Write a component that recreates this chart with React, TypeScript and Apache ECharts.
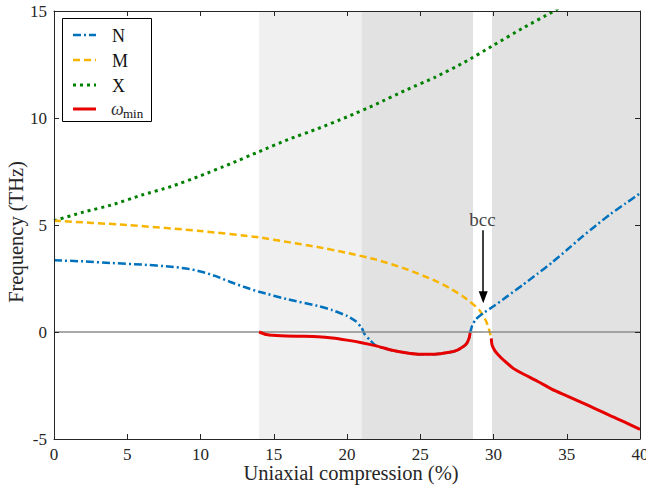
import React, { useEffect, useRef } from "react";
import * as echarts from "echarts";

// ---- data ----
const xN = [0, 2, 4, 6, 8, 9, 10, 11, 12, 13, 14, 16, 18, 19, 20, 20.6, 21.0, 21.2, 21.6, 22, 23, 24, 25, 26, 27, 27.5, 28, 28.2, 28.35, 28.4, 28.55, 28.8, 29.3, 30, 31, 32, 33, 34, 35, 36, 37, 38, 39, 40];
const yN = [3.35, 3.3, 3.22, 3.15, 3.05, 2.97, 2.83, 2.62, 2.35, 2.1, 1.88, 1.52, 1.22, 1.02, 0.75, 0.5, 0.2, -0.1, -0.4, -0.65, -0.84, -0.97, -1.04, -1.04, -0.95, -0.86, -0.65, -0.5, -0.25, -0.05, 0.3, 0.6, 0.88, 1.2, 1.7, 2.2, 2.72, 3.25, 3.83, 4.42, 4.98, 5.52, 6.0, 6.48];

const xM = [0, 5, 10, 14, 16, 18, 20, 22, 24, 26, 27, 28, 29, 29.5, 29.85];
const yM = [5.2, 5.0, 4.72, 4.42, 4.2, 3.97, 3.7, 3.38, 2.95, 2.4, 2.05, 1.62, 1.05, 0.5, -0.25];

const xX = [0, 2, 4, 6, 8, 10, 12, 14, 16, 18, 20, 22, 24, 26, 28, 30, 32, 34, 35];
const yX = [5.2, 5.6, 5.95, 6.4, 6.8, 7.3, 7.85, 8.43, 9.0, 9.5, 10.05, 10.65, 11.3, 11.9, 12.6, 13.4, 14.2, 14.95, 15.35];

const xMin1 = [14, 14.5, 15.5, 17, 18, 19, 20, 21, 22, 23, 24, 25, 26, 27, 27.5, 28, 28.2, 28.35, 28.4];
const yMin1 = [0, -0.12, -0.18, -0.2, -0.22, -0.28, -0.38, -0.5, -0.65, -0.84, -0.97, -1.04, -1.04, -0.95, -0.86, -0.65, -0.5, -0.25, -0.05];
const xMin2 = [29.85, 29.9, 30.1, 30.4, 30.7, 31.35, 32, 33, 34, 35, 36, 37, 38, 39, 40];
const yMin2 = [-0.3, -0.6, -0.88, -1.12, -1.32, -1.7, -1.95, -2.3, -2.68, -2.98, -3.29, -3.6, -3.92, -4.22, -4.55];

const lightBand = [14, 21];
const darkBands = [[21, 28.6], [29.9, 40]];

const bccPoint = [29.25, 5.25];
const arrowFrom = [29.3, 4.75];
const arrowTo = [29.3, 1.62];

const xTicksInterval = 5;
const yTicksInterval = 5;

const zip = (xs: number[], ys: number[]) => xs.map((x, i) => [x, ys[i]]);

const FONT = "Liberation Serif";
const AX = "#262626";

const C_N = "#0072BD";
const C_M = "#F7B500";
const C_X = "#008000";
const C_MIN = "#E60000";

export default function App() {
  const ref = useRef<HTMLDivElement>(null);
  useEffect(() => {
    if (!ref.current) return;
    const chart = echarts.init(ref.current, undefined, { renderer: "svg" });
    const axisCommon = {
      axisLine: { show: true, onZero: false, lineStyle: { color: AX, width: 1 } },
      axisTick: { show: true, inside: true, length: 5, lineStyle: { color: AX, width: 1 } },
      splitLine: { show: false },
      nameMoveOverlap: false,
      z: 20,
    };
    const legendItems = [
      { color: C_N, dash: [8, 3, 2, 3], width: 2.5, label: "N" },
      { color: C_M, dash: [7, 4], width: 2.5, label: "M" },
      { color: C_X, dash: [3, 4], width: 3, label: "X" },
      { color: C_MIN, dash: null, width: 3, label: "" },
    ];
    const rowsY = [35, 60, 85, 109];
    const legendEls: any[] = [
      {
        type: "rect",
        shape: { x: 62.5, y: 18.5, width: 89, height: 103 },
        style: { fill: "#fff", stroke: "#000", lineWidth: 1 },
        z: 100,
      },
    ];
    legendItems.forEach((it, i) => {
      legendEls.push({
        type: "line",
        shape: { x1: 73, y1: rowsY[i], x2: 96, y2: rowsY[i] },
        style: { stroke: it.color, lineWidth: it.width, lineDash: it.dash || undefined },
        z: 101,
      });
      if (it.label) {
        legendEls.push({
          type: "text",
          x: 112,
          y: rowsY[i] + 1,
          style: { text: it.label, fontFamily: FONT, fontSize: 18, fill: "#111", verticalAlign: "middle" },
          z: 101,
        });
      }
    });
    legendEls.push({
      type: "text",
      x: 111,
      y: rowsY[3],
      style: { text: "ω", fontFamily: FONT, fontStyle: "italic", fontSize: 18, fill: "#333", verticalAlign: "middle" },
      z: 101,
    });
    legendEls.push({
      type: "text",
      x: 123,
      y: rowsY[3] + 4,
      style: { text: "min", fontFamily: FONT, fontSize: 13, fill: "#111", verticalAlign: "middle" },
      z: 101,
    });

    chart.setOption({
      animation: false,
      backgroundColor: "#fff",
      textStyle: { fontFamily: FONT },
      grid: { left: 54, right: 6, top: 11, bottom: 46, containLabel: false, outerBoundsMode: "none" },
      xAxis: [
        {
          type: "value",
          min: 0,
          max: 40,
          interval: xTicksInterval,
          position: "bottom",
          ...axisCommon,
          axisLabel: { color: AX, fontFamily: FONT, fontSize: 17, lineHeight: 15, margin: 8 },
          name: "Uniaxial compression (%)",
          nameLocation: "middle",
          nameGap: 25,
          nameTextStyle: { color: AX, fontFamily: FONT, fontSize: 20.5, lineHeight: 18, padding: [0, 0, 0, 8] },
        },
        {
          type: "value",
          min: 0,
          max: 40,
          interval: xTicksInterval,
          position: "top",
          ...axisCommon,
          axisLabel: { show: false },
        },
      ],
      yAxis: [
        {
          type: "value",
          min: -5,
          max: 15,
          interval: yTicksInterval,
          position: "left",
          ...axisCommon,
          axisLabel: { color: AX, fontFamily: FONT, fontSize: 17, margin: 7 },
          name: "Frequency (THz)",
          nameLocation: "middle",
          nameGap: 28,
          nameTextStyle: { color: AX, fontFamily: FONT, fontSize: 20.5, padding: [0, 14, 0, 0] },
        },
        {
          type: "value",
          min: -5,
          max: 15,
          interval: yTicksInterval,
          position: "right",
          ...axisCommon,
          axisLabel: { show: false },
        },
      ],
      series: [
        {
          type: "line",
          name: "bands",
          data: [],
          z: 1,
          silent: true,
          markArea: {
            silent: true,
            data: [
              [{ xAxis: lightBand[0], itemStyle: { color: "#f0f0f0" } }, { xAxis: lightBand[1] }],
              ...darkBands.map((b) => [{ xAxis: b[0], itemStyle: { color: "#e2e2e2" } }, { xAxis: b[1] }]),
            ],
          },
          markLine: {
            silent: true,
            symbol: ["none", "none"],
            label: { show: false },
            lineStyle: { color: "#8c8c8c", width: 1.5, type: "solid" },
            data: [{ yAxis: 0 }],
          },
        },
        {
          type: "line",
          name: "X",
          data: zip(xX, yX),
          showSymbol: false,
          smooth: 0.2,
          z: 3,
          lineStyle: { color: C_X, width: 3, type: [3, 4] },
        },
        {
          type: "line",
          name: "M",
          data: zip(xM, yM),
          showSymbol: false,
          smooth: 0.2,
          z: 3,
          lineStyle: { color: C_M, width: 2.5, type: [7, 4] },
        },
        {
          type: "line",
          name: "N",
          data: zip(xN, yN),
          showSymbol: false,
          smooth: 0.2,
          z: 4,
          lineStyle: { color: C_N, width: 2.5, type: [8, 3, 2, 3] },
        },
        {
          type: "line",
          name: "ωmin",
          data: zip(xMin1, yMin1),
          showSymbol: false,
          smooth: 0.2,
          z: 5,
          lineStyle: { color: C_MIN, width: 3 },
        },
        {
          type: "line",
          name: "ωmin",
          data: zip(xMin2, yMin2),
          showSymbol: false,
          smooth: 0.2,
          z: 5,
          lineStyle: { color: C_MIN, width: 3 },
        },
        {
          type: "scatter",
          name: "bcc",
          data: [bccPoint],
          symbolSize: 0,
          z: 6,
          label: {
            show: true,
            position: "inside",
            formatter: "bcc",
            color: "#111",
            fontFamily: FONT,
            fontSize: 19,
          },
          markLine: {
            silent: true,
            symbol: ["none", "triangle"],
            symbolSize: [9, 12],
            label: { show: false },
            lineStyle: { color: "#000", width: 1.5, type: "solid" },
            itemStyle: { color: "#000" },
            data: [[{ coord: arrowFrom }, { coord: arrowTo }]],
          },
        },
      ],
      graphic: legendEls,
    });
    return () => chart.dispose();
  }, []);
  return <div ref={ref} style={{ position: "fixed", left: 0, top: 0, width: 646, height: 485 }} />;
}
